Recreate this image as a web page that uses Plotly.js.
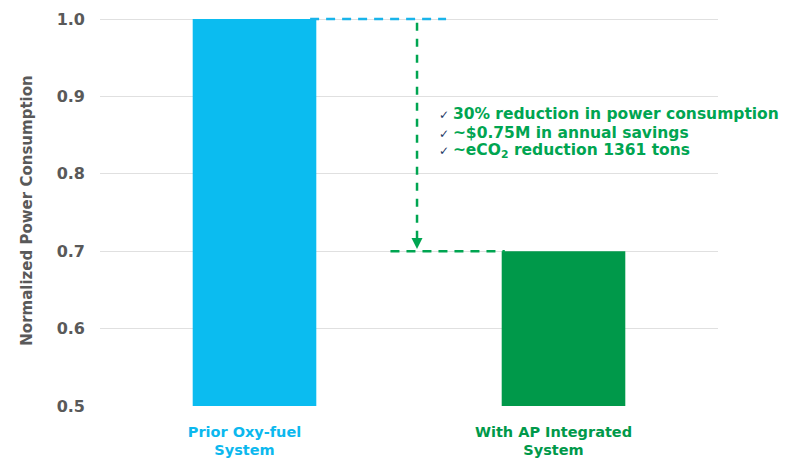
<!DOCTYPE html>
<html><head><meta charset="utf-8">
<script src="https://cdn.plot.ly/plotly-3.0.1.min.js"></script>
<style>body{margin:0;background:#fff}#c{width:805px;height:461px}</style>
</head><body><div id="c"></div>
<script>
const categories = ["Prior Oxy-fuel System", "With AP Integrated System"];
const tickLabels = ["<span style='color:#0cb8ee'>Prior Oxy-fuel<br>System</span>", "<span style='color:#00994a'>With AP Integrated<br>System</span>"];
const values = [1.0, 0.70];
const barColors = ["#0bbcf0", "#00994a"];
const bullets = ["30% reduction in power consumption", "~$0.75M in annual savings", "~eCO<sub>2</sub> reduction 1361 tons"];

const green = "#00a551";
const trace = {
  type: "bar", x: categories, y: values, width: 0.4,
  marker: {color: barColors}, hoverinfo: "skip"
};
// y: 1.0 at px 19, 0.5 at px 406 -> 774 px per unit
const yTop = 1.0 + 4 / 774;
const layout = {
  width: 805, height: 461,
  margin: {l: 100, r: 87, t: 15, b: 55},
  paper_bgcolor: "#fff", plot_bgcolor: "#fff",
  showlegend: false,
  font: {family: "DejaVu Sans", color: "#595959"},
  xaxis: {
    type: "category", range: [-0.5, 1.5],
    tickvals: categories, ticktext: tickLabels,
    tickfont: {size: 14.5, family: "DejaVu Sans", weight: "bold"},
    showgrid: false, showline: false, ticks: "", zeroline: false,
    ticklabelstandoff: 15, ticklabelshift: -10
  },
  yaxis: {
    range: [0.5, yTop], tickvals: [0.5, 0.6, 0.7, 0.8, 0.9, 1.0], tickformat: ".1f",
    tickfont: {size: 16, color: "#595959", weight: "bold"},
    gridcolor: "#e0e0e0", gridwidth: 1, zeroline: false,
    ticklabelstandoff: 14,
    title: {text: "Normalized Power Consumption", font: {size: 15, color: "#595959", weight: "bold"}, standoff: 20}
  },
  shapes: [
    {type: "line", xref: "x", yref: "y", x0: 0.18, x1: 0.62, y0: 1.0, y1: 1.0, line: {color: "#19b4ea", width: 2.5, dash: "9px,7px"}},
    {type: "line", xref: "x", yref: "y", x0: 0.526, x1: 0.526, y0: 0.995, y1: 0.712, line: {color: green, width: 2.5, dash: "8px,8px"}},
    {type: "line", xref: "x", yref: "y", x0: 0.44, x1: 0.81, y0: 0.70, y1: 0.70, line: {color: green, width: 2.5, dash: "9px,7px"}}
  ],
  annotations: [
    {xref: "x", yref: "y", x: 0.526, y: 0.703, ax: 0, ay: -10, showarrow: true, arrowhead: 2, arrowsize: 1.1, arrowwidth: 2, arrowcolor: green, text: " ", font: {size: 1}}
  ].concat(bullets.map((b, i) => ({
    xref: "paper", yref: "paper", x: (437 - 100) / 618, y: (406 - (117 + i * 18.5)) / 387,
    xanchor: "left", yanchor: "middle", showarrow: false, align: "left",
    text: "<span style='color:#1f3864;font-size:12px'>✓ </span><b>" + b + "</b>",
    font: {size: 15.5, color: green, family: "DejaVu Sans"}
  })))
};
Plotly.newPlot("c", [trace], layout, {displayModeBar: false, staticPlot: true});
</script></body></html>
